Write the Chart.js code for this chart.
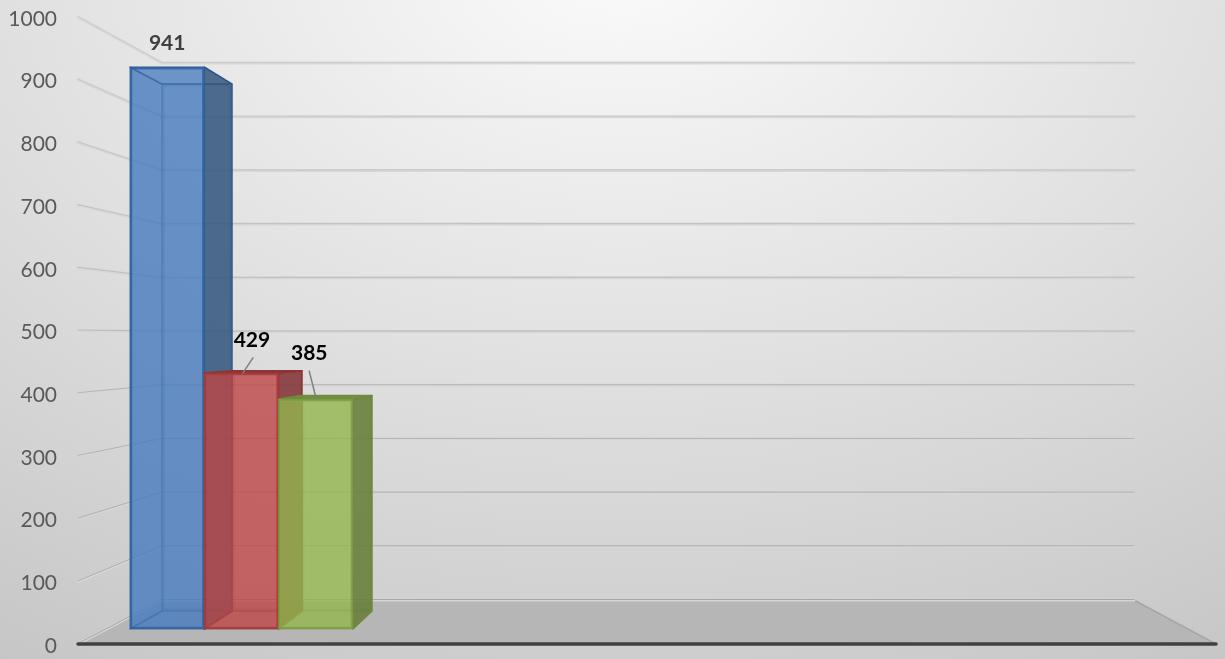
<!DOCTYPE html>
<html>
<head>
<meta charset="utf-8">
<title>Chart</title>
<script src="https://cdn.jsdelivr.net/npm/chart.js@4"></script>
<style>
    html, body { margin: 0; padding: 0; width: 1225px; height: 659px; overflow: hidden; }
    body { background: radial-gradient(ellipse 1300px 880px at 620px -40px, #fbfbfb 0%, #c2c2c2 100%); }
    canvas { display: block; }
</style>
</head>
<body>
<canvas id="chart" width="1225" height="659"></canvas>
<script>
// Values
const seriesNames = ['Series 1', 'Series 2', 'Series 3'];
const seriesValues = [941, 429, 385];
const tickValues = [0, 100, 200, 300, 400, 500, 600, 700, 800, 900, 1000];

// Plot box in page pixels
const plotTop = 17, plotBottom = 644, plotLeft = 78, plotRight = 1216;

// The 3D look: each depth plane gets its own hidden scale
function valueRange(zeroPixel, pixelsPerUnit) {
    return {
        min: (zeroPixel - plotBottom) / pixelsPerUnit,
        max: (zeroPixel - plotTop) / pixelsPerUnit,
    };
}
function slotRange(firstLeft, slotWidth) {
    const min = 0.5 + (plotLeft - firstLeft) / slotWidth;
    return { min: min, max: min + (plotRight - plotLeft) / slotWidth };
}

const frontFill = ['rgba(70,122,189,0.55)', 'rgba(190,70,70,0.55)', 'rgba(147,182,77,0.55)'];
const frontEdge = ['rgba(52,98,158,0.95)', 'rgba(162,58,58,0.9)', 'rgba(124,156,66,0.9)'];
const rearEdge = ['rgba(58,102,159,0.55)', 'rgba(162,58,58,0.5)', 'rgba(124,156,66,0.45)'];
const sideFill = ['rgba(54,84,116,0.75)', 'rgba(122,52,57,0.75)', 'rgba(95,116,53,0.75)'];
const topFill = ['rgba(70,122,189,0.45)', 'rgba(120,40,44,0.8)', 'rgba(105,135,55,0.85)'];
const sideEdge = ['#2f5a8f', '#8f3434', '#6f8c3e'];

// label offsets from the top centre of each front face
const labelOffset = [[0, -24], [10.5, -33], [-6.5, -46]];
const labelColor = ['#404040', '#000000', '#000000'];
const leaderLines = [null, [11.5, -15, 1.5, 0], [-6.5, -28, 0.5, 0]];

const datasets = [];
seriesValues.forEach((value, i) => {
    const point = [{ x: i + 1, y: value }];
    datasets.push({
        label: seriesNames[i] + ' rear',
        data: point,
        xAxisID: 'xBack',
        yAxisID: 'yBack',
        order: 2 * (seriesValues.length - i),
        backgroundColor: frontFill[i],
        borderColor: rearEdge[i],
        borderWidth: 2,
        borderSkipped: false,
    });
    datasets.push({
        label: seriesNames[i],
        data: point,
        xAxisID: 'x',
        yAxisID: 'yFront',
        order: 2 * (seriesValues.length - i) - 1,
        backgroundColor: frontFill[i],
        borderColor: frontEdge[i],
        borderWidth: 2,
        borderSkipped: false,
    });
});

function polygon(ctx, points, fill, stroke) {
    ctx.beginPath();
    points.forEach((p, i) => (i ? ctx.lineTo(p[0], p[1]) : ctx.moveTo(p[0], p[1])));
    ctx.closePath();
    ctx.fillStyle = fill;
    ctx.fill();
    ctx.strokeStyle = stroke;
    ctx.lineWidth = 1.5;
    ctx.lineJoin = 'round';
    ctx.stroke();
}

function barBox(element) {
    const p = element.getProps(['x', 'y', 'base', 'width'], true);
    return { left: p.x - p.width / 2, right: p.x + p.width / 2, top: p.y, bottom: p.base };
}

const roomPlugin = {
    id: 'room',
    // back wall, side wall and floor
    beforeDatasetsDraw(chart) {
        const ctx = chart.ctx, area = chart.chartArea;
        const front = chart.scales.y, wall = chart.scales.yWall;
        const wallLeft = area.left + 84, wallRight = area.right - 82;
        ctx.save();
        polygon(ctx, [
            [area.left, front.getPixelForValue(0)],
            [wallLeft, wall.getPixelForValue(0)],
            [wallRight, wall.getPixelForValue(0)],
            [area.right, front.getPixelForValue(0)],
        ], '#b6b6b6', 'rgba(150,150,150,0.6)');
        tickValues.forEach(v => {
            const yFront = front.getPixelForValue(v), yWall = wall.getPixelForValue(v);
            ctx.lineCap = 'round';
            ctx.beginPath();
            ctx.moveTo(area.left, yFront);
            ctx.lineTo(wallLeft, yWall);
            ctx.lineTo(wallRight, yWall);
            ctx.strokeStyle = 'rgba(214,214,214,0.95)';
            ctx.lineWidth = 3;
            ctx.stroke();
            ctx.beginPath();
            ctx.moveTo(area.left, yFront - 0.5);
            ctx.lineTo(wallLeft, yWall - 0.5);
            ctx.lineTo(wallRight, yWall - 0.5);
            ctx.strokeStyle = 'rgba(150,150,150,' + (0.75 - v / 1000 * 0.6) + ')';
            ctx.lineWidth = 1;
            ctx.stroke();
        });
        ctx.restore();
    },
    // side, top and bottom of a bar go between its rear and front faces
    afterDatasetDraw(chart, args) {
        if (args.index % 2 !== 0) return;
        const i = args.index / 2;
        const back = barBox(args.meta.data[0]);
        const face = barBox(chart.getDatasetMeta(args.index + 1).data[0]);
        const ctx = chart.ctx;
        ctx.save();
        polygon(ctx, [[face.left, face.bottom], [face.right, face.bottom], [back.right, back.bottom], [back.left, back.bottom]], frontFill[i], rearEdge[i]);
        polygon(ctx, [[face.left, face.top], [back.left, back.top], [back.left, back.bottom], [face.left, face.bottom]], frontFill[i], rearEdge[i]);
        polygon(ctx, [[face.left, face.top], [face.right, face.top], [back.right, back.top], [back.left, back.top]], topFill[i], sideEdge[i]);
        polygon(ctx, [[face.right, face.top], [back.right, back.top], [back.right, back.bottom], [face.right, face.bottom]], sideFill[i], sideEdge[i]);
        ctx.restore();
    },
    // floor front edge, value labels and their leader lines
    afterDatasetsDraw(chart) {
        const ctx = chart.ctx, area = chart.chartArea;
        ctx.save();
        ctx.beginPath();
        ctx.moveTo(area.left, chart.scales.y.getPixelForValue(0));
        ctx.lineTo(area.right, chart.scales.y.getPixelForValue(0));
        ctx.strokeStyle = '#404040';
        ctx.lineWidth = 3.5;
        ctx.lineCap = 'round';
        ctx.stroke();

        ctx.font = 'bold 21px Lato';
        ctx.textAlign = 'center';
        ctx.textBaseline = 'middle';
        seriesValues.forEach((value, i) => {
            const face = chart.getDatasetMeta(2 * i + 1).data[0].getProps(['x', 'y'], true);
            ctx.fillStyle = labelColor[i];
            ctx.fillText(String(value), face.x + labelOffset[i][0], face.y + labelOffset[i][1]);
            const line = leaderLines[i];
            if (line) {
                ctx.beginPath();
                ctx.moveTo(face.x + line[0], face.y + line[1]);
                ctx.lineTo(face.x + line[2], face.y + line[3]);
                ctx.strokeStyle = '#7f7f7f';
                ctx.lineWidth = 1.5;
                ctx.stroke();
            }
        });
        ctx.restore();
    },
};

const hiddenY = r => ({ type: 'linear', display: false, min: r.min, max: r.max, grid: { display: false } });
const hiddenX = r => ({
    type: 'linear',
    display: false,
    offset: false,
    min: r.min,
    max: r.max,
    grid: { display: false },
    afterBuildTicks(axis) { axis.ticks = seriesValues.map((v, i) => ({ value: i + 1 })); },
});

new Chart(document.getElementById('chart').getContext('2d'), {
    type: 'bar',
    data: { datasets: datasets },
    plugins: [roomPlugin],
    options: {
        responsive: false,
        animation: false,
        devicePixelRatio: 1,
        layout: { padding: { top: plotTop, bottom: 659 - plotBottom, right: 1225 - plotRight, left: 0 } },
        plugins: { legend: { display: false }, tooltip: { enabled: false } },
        datasets: { bar: { grouped: false, categoryPercentage: 1, barPercentage: 1 } },
        scales: {
            x: hiddenX(slotRange(130, 74.3)),
            xBack: hiddenX(slotRange(162, 70)),
            yFront: hiddenY(valueRange(629, 0.597)),
            yBack: hiddenY(valueRange(611, 0.56)),
            yWall: hiddenY(valueRange(600, 0.537)),
            y: {
                type: 'linear',
                min: 0,
                max: 1000,
                position: 'left',
                afterFit(axis) {
                    axis.width = plotLeft;
                    axis.paddingTop = 0;
                    axis.paddingBottom = 0;
                },
                afterBuildTicks(axis) { axis.ticks = tickValues.map(v => ({ value: v })); },
                border: { display: false },
                grid: { display: false, drawTicks: false },
                ticks: {
                    padding: 21,
                    labelOffset: 2,
                    color: '#595959',
                    font: { family: 'Lato', size: 21 },
                    callback: value => String(value),
                },
            },
        },
    },
});
</script>
</body>
</html>
